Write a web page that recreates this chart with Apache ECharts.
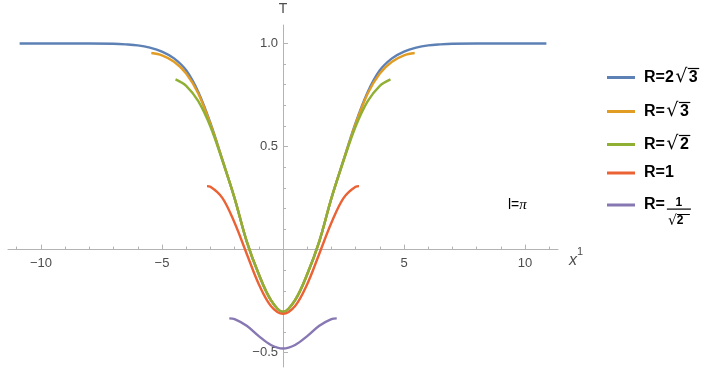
<!DOCTYPE html>
<html><head><meta charset="utf-8">
<script src="https://cdn.jsdelivr.net/npm/echarts@6/dist/echarts.min.js"></script>
<style>html,body{margin:0;padding:0;background:#fff}#c{width:713px;height:370px}</style>
</head><body><div id="c"></div><script>
// ---- data ----
const seriesNames = ['R=2√3', 'R=√3', 'R=√2', 'R=1', 'R=1/√2'];
const blueX = [-10.88,-10,-9,-8,-7,-6.5,-6,-5.5,-5,-4.5,-4,-3.5,-3,-2.5,-2,-1.5,-1,-0.5,0,0.5,1,1.5,2,2.5,3,3.5,4,4.5,5,5.5,6,6.5,7,8,9,10,10.88];
const blueY = [1,1,1,1,0.999,0.996,0.991,0.98,0.961,0.928,0.87,0.765,0.615,0.435,0.25,0.04,-0.12,-0.245,-0.303,-0.245,-0.12,0.04,0.25,0.435,0.615,0.765,0.87,0.928,0.961,0.98,0.991,0.996,0.999,1,1,1,1];
const orangeX = [-5.44,-5,-4.5,-4,-3.5,-3,-2.5,-2,-1.5,-1,-0.5,0,0.5,1,1.5,2,2.5,3,3.5,4,4.5,5,5.44];
const orangeY = [0.954,0.943,0.912,0.855,0.758,0.61,0.433,0.25,0.04,-0.12,-0.245,-0.303,-0.245,-0.12,0.04,0.25,0.433,0.61,0.758,0.855,0.912,0.943,0.954];
const greenX = [-4.44,-4,-3.5,-3,-2.5,-2,-1.5,-1,-0.5,0,0.5,1,1.5,2,2.5,3,3.5,4,4.44];
const greenY = [0.826,0.795,0.72,0.597,0.43,0.248,0.04,-0.12,-0.245,-0.303,-0.245,-0.12,0.04,0.248,0.43,0.597,0.72,0.795,0.826];
const redX = [-3.14,-3,-2.5,-2,-1.5,-1,-0.5,0,0.5,1,1.5,2,2.5,3,3.14];
const redY = [0.308,0.305,0.25,0.13,-0.02,-0.168,-0.274,-0.312,-0.274,-0.168,-0.02,0.13,0.25,0.305,0.308];
const purpleX = [-2.22,-2,-1.5,-1,-0.5,0,0.5,1,1.5,2,2.22];
const purpleY = [-0.334,-0.338,-0.37,-0.42,-0.463,-0.48,-0.463,-0.42,-0.37,-0.338,-0.334];
const xMajorTicks = [-10,-5,5,10];
const xMinorTicks = [-11,-9,-8,-7,-6,-4,-3,-2,-1,1,2,3,4,6,7,8,9,11];
const yMajorTicks = [-0.5,0.5,1.0];
const yMinorTicks = [-0.4,-0.3,-0.2,-0.1,0.1,0.2,0.3,0.4,0.6,0.7,0.8,0.9];
const xRange = [-11.36, 11.36];
const yRange = [-0.57, 1.09];
const annotation = 'l=π';
// ----------------------------------------

const colors = ['#5E81B5','#E19C24','#8FB032','#EB6235','#8778B3'];
const FONT = '"Liberation Sans", Arial, sans-serif';
const AX = '#b3b3b3';
const LBL = '#4d4d4d';
const xs = [blueX, orangeX, greenX, redX, purpleX];
const ys = [blueY, orangeY, greenY, redY, purpleY];
function pairs(a, b) { return a.map((x, i) => [x, b[i]]); }
function fmt(v, d) { return (v < 0 ? '\u2212' : '') + Math.abs(v).toFixed(d); }

const chart = echarts.init(document.getElementById('c'));

const mctx = document.createElement('canvas').getContext('2d');
function tw(text, font) { mctx.font = font; return mctx.measureText(text).width; }
const F_T = 'bold 16px ' + FONT;
const RAD_W = 15;

const legendRows = [78, 112, 145, 175, 207];
const legendFmt = ['{t|R=2}{r|√}{d|3}', '{t|R=}{r|√}{d|3}', '{t|R=}{r|√}{d|2}', '{t|R=1}', '{t|R=}'];
const legendLeftText = ['R=2', 'R=', 'R=', 'R=1', 'R='];
const textX0 = 607 + 28 + 5 + 4;
const rich = {
  t: { fontSize: 16, fontWeight: 'bold', fontFamily: FONT, color: '#000', lineHeight: 20, padding: [0,0,0,4] },
  r: { fontSize: 19, fontFamily: '"DejaVu Sans"', color: '#000', lineHeight: 20, width: RAD_W, align: 'right' },
  d: { fontSize: 16, fontWeight: 'bold', fontFamily: FONT, color: '#000', lineHeight: 20 }
};
const legends = seriesNames.map((n, i) => ({
  data: [n], left: 607, top: legendRows[i] - 10, padding: 0,
  itemWidth: 28, itemHeight: 3, icon: 'rect', selectedMode: false,
  formatter: () => legendFmt[i],
  textStyle: { rich: rich }
}));

const graphics = [];
for (let i = 0; i < 3; i++) {
  const xr = textX0 + tw(legendLeftText[i], F_T);
  const wd = tw(i === 2 ? '2' : '3', F_T);
  graphics.push({ type: 'line', shape: { x1: xr + RAD_W - 1, y1: legendRows[i] - 9.5, x2: xr + RAD_W + wd + 1.5, y2: legendRows[i] - 9.5 }, style: { stroke: '#000', lineWidth: 1.2 } });
}
const fx0 = textX0 + tw('R=', F_T) + 2;
graphics.push({ type: 'text', x: fx0 + 12, y: 203, style: { text: '1', font: 'bold 12px ' + FONT, fill: '#000', align: 'center', verticalAlign: 'middle' } });
graphics.push({ type: 'rect', shape: { x: fx0, y: 208.5, width: 24, height: 1.2 }, style: { fill: '#000' } });
graphics.push({ type: 'text', x: fx0 + 1, y: 221, style: { text: '{r|√}{d|2}', rich: { r: { fontSize: 14, fontFamily: '"DejaVu Sans"', fill: '#000' }, d: { fontSize: 12, fontWeight: 'bold', fontFamily: FONT, fill: '#000' } }, align: 'left', verticalAlign: 'middle' } });
graphics.push({ type: 'line', shape: { x1: fx0 + 10, y1: 214.5, x2: fx0 + 23, y2: 214.5 }, style: { stroke: '#000', lineWidth: 1 } });
graphics.push({ type: 'text', x: 508, y: 205, style: { text: '{a|l=}{p|π}', rich: { a: { fontSize: 14, fontFamily: FONT, fill: '#000' }, p: { fontSize: 15, fontStyle: 'italic', fontFamily: '"Liberation Serif"', fill: '#000' } }, verticalAlign: 'middle' } });

const lineStyle = { color: AX, width: 1 };
const G = { left: 8, width: 550, top: 25, height: 342 };
const yOff = -G.width * (0 - xRange[0]) / (xRange[1] - xRange[0]);
const xOff = -G.height * (0 - yRange[0]) / (yRange[1] - yRange[0]);

chart.setOption({
  animation: false,
  grid: Object.assign({ containLabel: false, outerBoundsMode: 'none' }, G),
  xAxis: [
    { type: 'value', min: xRange[0], max: xRange[1], position: 'bottom', offset: xOff,
      axisLine: { onZero: false, lineStyle: lineStyle },
      axisTick: { inside: true, length: 5, customValues: xMajorTicks, lineStyle: lineStyle },
      axisLabel: { customValues: xMajorTicks, formatter: v => fmt(v, 0), color: LBL, fontSize: 13, fontFamily: FONT, margin: 7 },
      splitLine: { show: false },
      name: '{i|x}{s|1}', nameLocation: 'end', nameGap: 11,
      nameTextStyle: { padding: [16, 0, 0, 0], rich: { i: { fontSize: 16, fontStyle: 'italic', fontFamily: FONT, color: LBL, verticalAlign: 'bottom', lineHeight: 22 }, s: { fontSize: 11, fontFamily: FONT, color: LBL, verticalAlign: 'top', lineHeight: 22 } } } },
    { type: 'value', min: xRange[0], max: xRange[1], position: 'bottom', offset: xOff,
      axisLine: { onZero: false, show: false },
      axisTick: { inside: true, length: 3, customValues: xMinorTicks, lineStyle: lineStyle },
      axisLabel: { show: false }, splitLine: { show: false } }
  ],
  yAxis: [
    { type: 'value', min: yRange[0], max: yRange[1], position: 'left', offset: yOff,
      axisLine: { onZero: false, lineStyle: lineStyle },
      axisTick: { inside: true, length: 5, customValues: yMajorTicks, lineStyle: lineStyle },
      axisLabel: { customValues: yMajorTicks, formatter: v => fmt(v, 1), color: LBL, fontSize: 13, fontFamily: FONT, margin: 5 },
      splitLine: { show: false },
      name: 'T', nameLocation: 'end', nameGap: 9,
      nameTextStyle: { color: LBL, fontSize: 14, fontFamily: FONT, align: 'center' } },
    { type: 'value', min: yRange[0], max: yRange[1], position: 'left', offset: yOff,
      axisLine: { onZero: false, show: false },
      axisTick: { inside: true, length: 3, customValues: yMinorTicks, lineStyle: lineStyle },
      axisLabel: { show: false }, splitLine: { show: false } }
  ],
  legend: legends,
  graphic: graphics,
  series: seriesNames.map((n, i) => ({
    name: n, type: 'line', xAxisIndex: 0, yAxisIndex: 0,
    data: pairs(xs[i], ys[i]), showSymbol: false, symbol: 'none',
    smooth: 0.35,
    lineStyle: { color: colors[i], width: 2.4 }, itemStyle: { color: colors[i] }
  }))
});
</script></body></html>
